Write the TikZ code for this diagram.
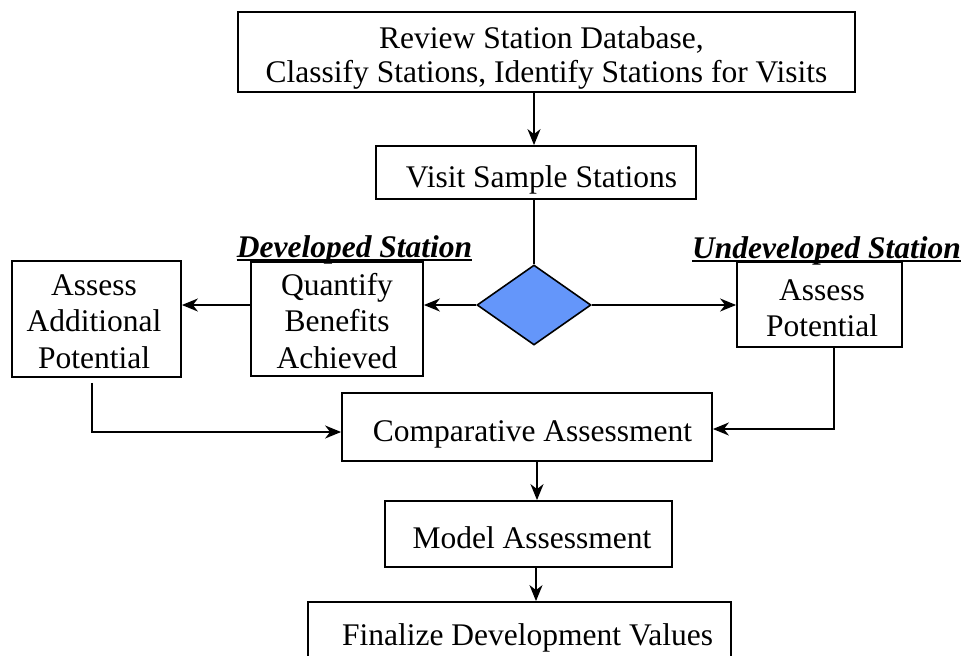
\documentclass[tikz,border=0pt]{standalone}
\usepackage{fontspec}
\setmainfont{Liberation Serif}
\usetikzlibrary{arrows.meta,shapes.geometric}
\definecolor{diamblue}{RGB}{100,150,250}
\begin{document}
\begin{tikzpicture}[x=1pt,y=-1pt,
  box/.style={draw, line width=1.8pt, inner sep=0pt, rectangle},
  lbl/.style={inner sep=0pt, align=center, anchor=north, font=\fontsize{31.5}{36.5}\selectfont},
  one/.style={inner sep=0pt, anchor=base, font=\fontsize{31.5}{36.5}\selectfont},
  tag/.style={inner sep=0pt, anchor=base, font=\fontsize{31.5}{36.5}\selectfont\bfseries\itshape},
  conn/.style={line width=1.7pt},
  arr/.style={conn, -{Stealth[length=16pt,width=13pt,inset=5pt]}},
]
\useasboundingbox (0,0) rectangle (964,656);

% boxes
\node[box, minimum width=617pt, minimum height=80pt] (top) at (546.5,52) {};
\node[box, minimum width=320pt, minimum height=53pt] (visit) at (536,172.5) {};
\node[box, minimum width=169pt, minimum height=116pt] (addl) at (96.5,319) {};
\node[box, minimum width=172pt, minimum height=114pt] (quant) at (337,319) {};
\node[box, minimum width=165pt, minimum height=85pt] (pot) at (819.5,304.5) {};
\node[box, minimum width=370pt, minimum height=68pt] (comp) at (527,427) {};
\node[box, minimum width=287pt, minimum height=66pt] (model) at (528.5,534) {};
\node[box, minimum width=423pt, minimum height=90pt] (final) at (519.5,647) {};
\node[diamond, draw, line width=1.6pt, fill=diamblue, inner sep=0pt,
      minimum width=114pt, minimum height=80pt] (diam) at (534,305) {};

% texts
\node[lbl] (toptext) at (546.5,22.45)
  {\strut Review Station Database,\hspace*{10pt}\\[-2.5pt]\strut Classify Stations, Identify Stations for Visits};
\node[one] (visittext) at (541.5,187) {Visit Sample Stations};
\node[lbl] (addltext) at (94,269.45) {\strut Assess\\\strut Additional\\\strut Potential};
\node[lbl] (quanttext) at (337,269.45) {\strut Quantify\\\strut Benefits\\\strut Achieved};
\node[lbl] (pottext) at (822,274.45) {\strut Assess\\\strut Potential};
\node[one] (comptext) at (532.5,441) {Comparative Assessment};
\node[one] (modeltext) at (532,548) {Model Assessment};
\node[one] (finaltext) at (527.5,645) {Finalize Development Values};

% tags
\node[tag] (dev) at (354.5,257) {Developed Station};
\node[tag] (undev) at (826.5,258) {Undeveloped Station};
\draw[line width=1.5pt] ([yshift=-3pt]dev.base west) -- ([yshift=-3pt]dev.base east);
\draw[line width=1.5pt] ([yshift=-3pt]undev.base west) -- ([yshift=-3pt]undev.base east);

% connectors
\coordinate (ea) at (92,432);
\coordinate (eb) at (834,429);
\coordinate (cx) at (537,0);
\coordinate (fx) at (536,0);
\draw[arr] (top.south -| diam.north) -- (visit.north -| diam.north);
\draw[conn] (visit.south -| diam.north) -- (diam.north);
\draw[arr] (diam.west) -- (diam.west -| quant.east);
\draw[arr] (diam.west -| quant.west) -- (diam.west -| addl.east);
\draw[arr] (diam.east) -- (diam.east -| pot.west);
\draw[arr, shorten <=5pt] (addl.south -| ea) -- (ea) -- (ea -| comp.west);
\draw[arr] (pot.south -| eb) -- (eb) -- (eb -| comp.east);
\draw[arr] (comp.south -| cx) -- (model.north -| cx);
\draw[arr] (model.south -| fx) -- (final.north -| fx);
\end{tikzpicture}
\end{document}
